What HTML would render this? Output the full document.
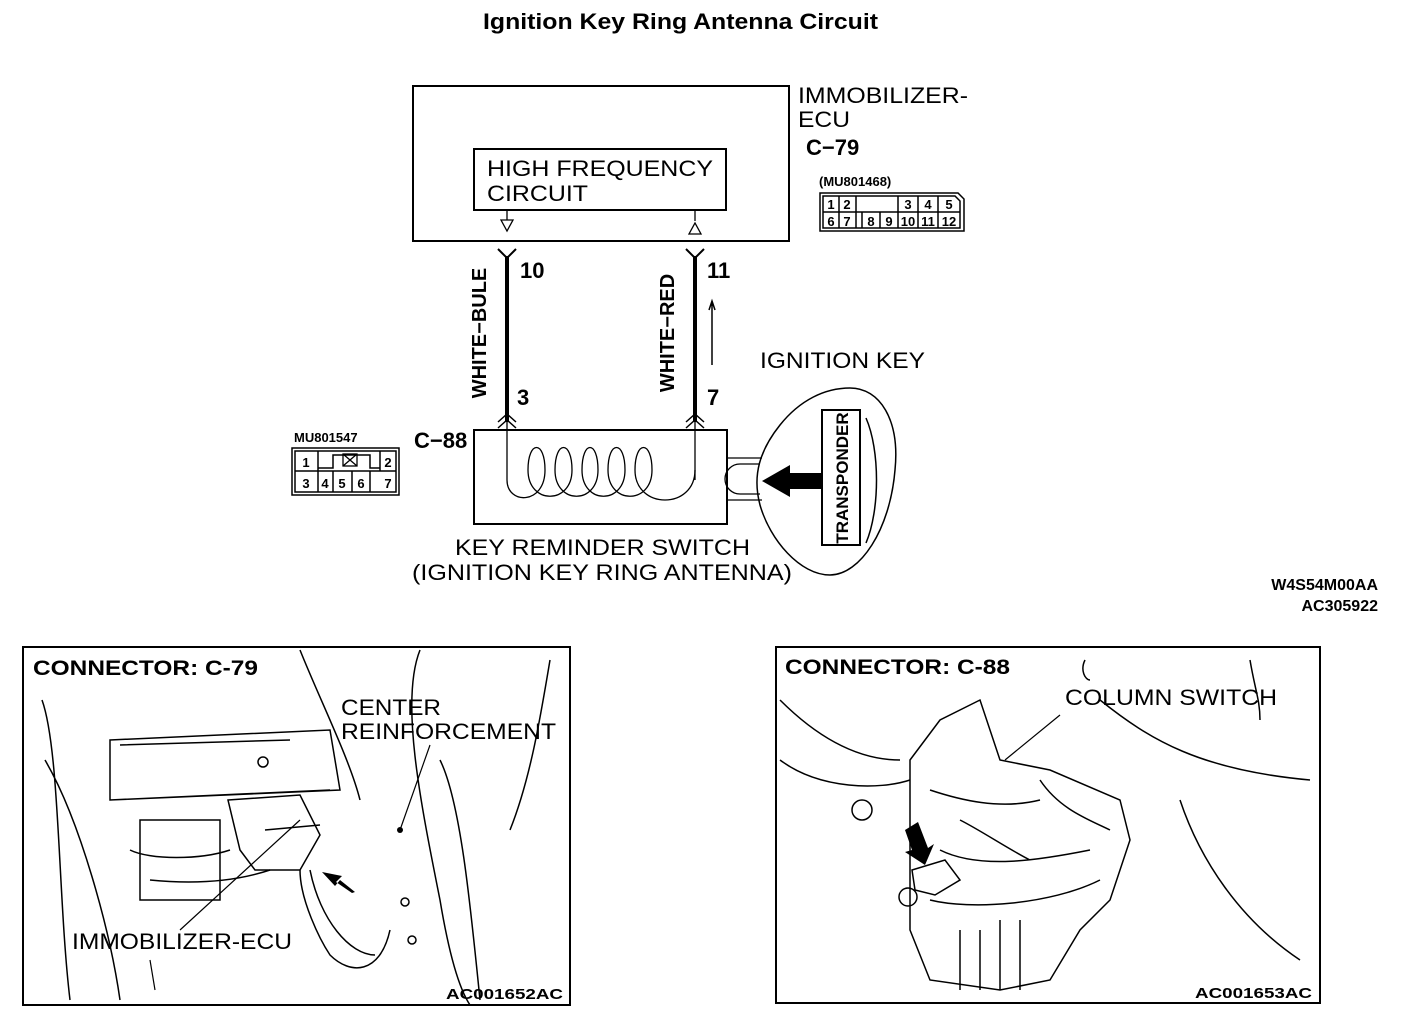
<!DOCTYPE html>
<html><head><meta charset="utf-8"><style>
html,body{margin:0;padding:0;background:#fff}
svg{display:block}
text{font-family:"Liberation Sans",sans-serif;fill:#000}
.n{font-family:"Liberation Sans Narrow","Liberation Sans",sans-serif;font-weight:bold}
</style></head><body>
<svg width="1408" height="1024" viewBox="0 0 1408 1024" xmlns="http://www.w3.org/2000/svg">
<g fill="none" stroke="#000" stroke-width="2">
<text x="483" y="29" font-size="22" font-weight="bold" textLength="395" lengthAdjust="spacingAndGlyphs" stroke="none">Ignition Key Ring Antenna Circuit</text>
<rect x="413" y="86" width="376" height="155"/>
<rect x="474" y="149" width="252" height="61"/>
<path d="M507 210V220M501 220h12l-6 11z M695 210V221M689 234h12l-6-11z" stroke-width="1.3"/>
<path d="M507 256V422M695 256V422" stroke-width="4"/>
<path d="M498 249l9 9 9-9M686 249l9 9 9-9" stroke-width="2"/>
<path d="M498 422l9-8 9 8M498 428l9-8 9 8M686 422l9-8 9 8M686 428l9-8 9 8" stroke-width="1.5"/>
<path d="M507 422V480M695 422V480" stroke-width="1.3"/>
<path d="M712 365V302M709 310l3-9 3 9" stroke-width="1.5"/>
<rect x="474" y="430" width="253" height="94"/>
<path d="M507 480 C507 505,545 505,545 470 C545 440,528 440,528 470 C528 505,572 505,572 470 C572 440,555 440,555 470 C555 505,598 505,598 470 C598 440,582 440,582 470 C582 505,625 505,625 470 C625 440,608 440,608 470 C608 505,652 505,652 470 C652 440,635 440,635 470 C635 510,695 510,695 470" stroke-width="1.3"/>
<path d="M727 458H762M727 500H762M760 464H740a15 15 0 0 0 0 30H760" stroke-width="1.3"/>
<path d="M850 388 C880 388,900 420,895 470 C890 530,860 575,830 575 C800 575,770 540,760 505 C752 475,760 450,780 425 C800 400,825 388,850 388Z" stroke-width="1.5"/>
<rect x="822" y="410" width="38" height="135"/>
<path d="M866 418 C880 450,880 510,866 543" stroke-width="1.5"/>
<path d="M822 473H790V465L762 481L790 497V489H822Z" fill="#000" stroke="none"/>
<text x="848" y="478" font-size="17" class="n" stroke="none" text-anchor="middle" transform="rotate(-90 848 478)">TRANSPONDER</text>
<rect x="292" y="448" width="107" height="47" stroke-width="1.5"/>
<rect x="295" y="451" width="101" height="41" stroke-width="1.5"/>
<path d="M295 471H396M318 451V492M333 471V492M352 471V492M370 471V492M380 451V471M318 468H333V455H370V468H380" stroke-width="1.5"/>
<rect x="343" y="454" width="14" height="12" stroke-width="1.3"/><path d="M343 454l14 12M357 454l-14 12" stroke-width="1.3"/>
<path d="M820 193h138l6 6v32h-144v-32z M823 196h132l5 5v27h-137z" stroke-width="1.5"/>
<path d="M823 212H960M839 196V228M856 196V228M862 212V228M880 212V228M898 196V228M918 196V228M938 196V228" stroke-width="1.5"/>
<rect x="23" y="647" width="547" height="358" stroke-width="2"/>
<rect x="776" y="647" width="544" height="356" stroke-width="2"/>
<g stroke-width="1.5">
<path d="M42 700C60 750,58 900,70 1000M45 760C80 820,110 930,120 1000M110 740L330 730L340 790L110 800ZM120 745L290 740M110 800L330 790"/>
<path d="M300 650C320 700,350 760,360 800M420 650C400 700,420 800,440 900C450 960,460 990,470 1005M550 660C540 720,530 780,510 830M440 760C460 800,470 900,480 1000"/>
<path d="M228 800L300 795L320 835L300 870L255 870L240 850Z M265 830L320 825"/>
<path d="M140 820H220V900H140ZM130 850C150 860,200 860,230 850M150 880C200 885,240 880,270 870"/>
<path d="M300 870C300 900,320 940,330 955C350 975,380 975,390 930M310 870C320 920,350 955,375 955"/>
<circle cx="263" cy="762" r="5"/><circle cx="405" cy="902" r="4"/><circle cx="412" cy="940" r="4"/>
<path d="M300 820l-120 110M150 960L155 990" stroke-width="1.2"/>
<path d="M430 745l-30 85" stroke-width="1.2"/>
</g>
<path d="M355 892L340 880L335 886L322 872L342 876L336 882L352 893Z" fill="#000" stroke="none"/>
<circle cx="400" cy="830" r="3" fill="#000" stroke="none"/>
<g stroke-width="1.5">
<path d="M780 700C820 740,860 760,900 760M780 760C820 790,880 790,910 780M1100 700C1150 740,1200 770,1310 780M1180 800C1200 860,1240 920,1300 960M1250 660C1255 690,1260 700,1260 720M1085 660C1080 670,1085 680,1090 680"/>
<path d="M910 760L940 720L980 700L1000 760L1050 770L1120 800L1130 840L1110 900L1080 930L1050 980L1000 990L930 980L910 930Z"/>
<path d="M930 790C960 800,1000 810,1040 800M940 850C980 870,1040 860,1090 850M930 900C970 910,1050 905,1100 880M960 930V990M980 930V990M1000 920V990M1020 920V990M960 820C980 830,1010 850,1030 860M1040 780C1060 810,1090 820,1110 830"/>
<path d="M912 870L945 860L960 880L935 895L915 890Z"/>
<circle cx="862" cy="810" r="10"/><circle cx="908" cy="897" r="9"/>
<path d="M1060 715L1005 760" stroke-width="1.2"/>
</g>
<path d="M905 830L918 822L928 848L934 844L925 865L905 852L912 850Z" fill="#000" stroke="none"/>
</g>
<g font-size="22">
<text x="487" y="176" textLength="226" lengthAdjust="spacingAndGlyphs">HIGH FREQUENCY</text>
<text x="487" y="201" textLength="101" lengthAdjust="spacingAndGlyphs">CIRCUIT</text>
<text x="798" y="103" textLength="170" lengthAdjust="spacingAndGlyphs">IMMOBILIZER-</text>
<text x="798" y="127" textLength="52" lengthAdjust="spacingAndGlyphs">ECU</text>
<text x="760" y="368" textLength="165" lengthAdjust="spacingAndGlyphs">IGNITION KEY</text>
<text x="455" y="555" textLength="295" lengthAdjust="spacingAndGlyphs">KEY REMINDER SWITCH</text>
<text x="412" y="580" textLength="380" lengthAdjust="spacingAndGlyphs">(IGNITION KEY RING ANTENNA)</text>
<text x="341" y="715" textLength="100" lengthAdjust="spacingAndGlyphs">CENTER</text>
<text x="341" y="739" textLength="215" lengthAdjust="spacingAndGlyphs">REINFORCEMENT</text>
<text x="72" y="949" textLength="220" lengthAdjust="spacingAndGlyphs">IMMOBILIZER-ECU</text>
<text x="1065" y="705" textLength="212" lengthAdjust="spacingAndGlyphs">COLUMN SWITCH</text>
</g>
<g class="n">
<text x="806" y="155" font-size="22">C−79</text>
<text x="414" y="448" font-size="22">C−88</text>
<text x="520" y="278" font-size="22">10</text>
<text x="707" y="278" font-size="22">11</text>
<text x="517" y="405" font-size="22">3</text>
<text x="707" y="405" font-size="22">7</text>
<text x="486" y="333" font-size="20" text-anchor="middle" transform="rotate(-90 486 333)">WHITE−BULE</text>
<text x="674" y="333" font-size="20" text-anchor="middle" transform="rotate(-90 674 333)">WHITE−RED</text>
<text x="819" y="186" font-size="13">(MU801468)</text>
<text x="294" y="442" font-size="13">MU801547</text>
<g font-size="13" text-anchor="middle">
<text x="831" y="209">1</text><text x="847" y="209">2</text><text x="908" y="209">3</text><text x="928" y="209">4</text><text x="949" y="209">5</text>
<text x="831" y="226">6</text><text x="847" y="226">7</text><text x="871" y="226">8</text><text x="889" y="226">9</text><text x="908" y="226">10</text><text x="928" y="226">11</text><text x="949" y="226">12</text>
<text x="306" y="467">1</text><text x="388" y="467">2</text>
<text x="306" y="488">3</text><text x="325" y="488">4</text><text x="342" y="488">5</text><text x="361" y="488">6</text><text x="388" y="488">7</text>
</g>
<text x="1378" y="590" font-size="16" text-anchor="end">W4S54M00AA</text>
<text x="1378" y="611" font-size="16" text-anchor="end">AC305922</text>
</g>
<g font-weight="bold">
<text x="33" y="675" font-size="21" textLength="225" lengthAdjust="spacingAndGlyphs">CONNECTOR: C-79</text>
<text x="785" y="674" font-size="21" textLength="225" lengthAdjust="spacingAndGlyphs">CONNECTOR: C-88</text>
<text x="446" y="999" font-size="15" textLength="117" lengthAdjust="spacingAndGlyphs">AC001652AC</text>
<text x="1195" y="998" font-size="15" textLength="117" lengthAdjust="spacingAndGlyphs">AC001653AC</text>
</g>
</svg>
</body></html>
